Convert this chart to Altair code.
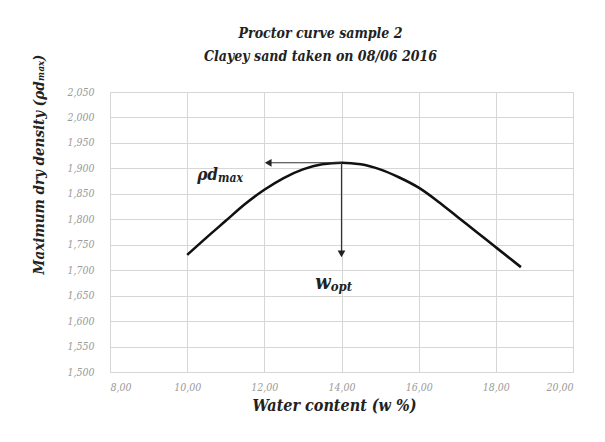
import altair as alt
import pandas as pd

# Proctor curve readings (water content %, dry density)
water = [10.0, 10.5, 11.0, 11.5, 12.0, 12.5, 13.0, 13.5, 14.0, 14.5, 15.0, 15.5, 16.0, 16.5, 17.0, 17.5, 18.0, 18.65]
density = [1.730, 1.764, 1.797, 1.830, 1.858, 1.881, 1.898, 1.908, 1.911, 1.908, 1.898, 1.882, 1.862, 1.835, 1.805, 1.775, 1.745, 1.706]

x_ticks = [8, 10, 12, 14, 16, 18, 20]
y_ticks = [1.500, 1.550, 1.600, 1.650, 1.700, 1.750, 1.800, 1.850, 1.900, 1.950, 2.000, 2.050]

# annotation values
w_opt = 14.0
rho_max = 1.911
h_arrow_end = 12.1
v_arrow_end = 1.732
rho_label_x = 10.8
rho_label_y = 1.878
w_label_x = 13.72
w_label_y = 1.663

title_lines = ["Proctor curve sample 2", "Clayey sand taken on 08/06 2016"]
x_title = "Water content (w %)"
y_title = "Maximum dry density (ρdₘₐₓ)"

SERIF = "DejaVu Serif Condensed"

curve_df = pd.DataFrame({"w": water, "rho": density})

x_scale = alt.Scale(domain=[8, 20], nice=False, zero=False)
y_scale = alt.Scale(domain=[1.5, 2.05], nice=False, zero=False)

x_axis = alt.Axis(
    values=x_ticks,
    labelExpr="replace(format(datum.value, '.2f'), '.', ',')",
    grid=True, gridColor="#d6d6d6", gridWidth=1,
    ticks=False, domain=False, labelOverlap=False,
    labelFont=SERIF, labelFontStyle="italic", labelFontSize=10.5, labelColor="#9a9a9a",
    labelPadding=10,
    title=x_title, titleFont=SERIF, titleFontStyle="italic", titleFontWeight="bold",
    titleFontSize=16, titleColor="#222222",
    titleX=224, titleY=33, titleAlign="center", titleBaseline="middle",
)
y_axis = alt.Axis(
    values=y_ticks,
    labelExpr="replace(format(datum.value, '.3f'), '.', ',')",
    grid=True, gridColor="#d6d6d6", gridWidth=1,
    ticks=False, domain=False, labelOverlap=False,
    labelFont=SERIF, labelFontStyle="italic", labelFontSize=10.5, labelColor="#9a9a9a",
    labelPadding=16,
    title=y_title, titleFont=SERIF, titleFontStyle="italic", titleFontWeight="bold",
    titleFontSize=15, titleColor="#222222",
    titleX=-72, titleY=72, titleAngle=270, titleAlign="center", titleBaseline="middle",
)

curve = alt.Chart(curve_df).mark_line(
    color="#111111", strokeWidth=2.6, interpolate="monotone"
).encode(
    x=alt.X("w:Q", scale=x_scale, axis=x_axis),
    y=alt.Y("rho:Q", scale=y_scale, axis=y_axis),
)

h_df = pd.DataFrame({"x1": [w_opt], "x2": [h_arrow_end], "y": [rho_max]})
v_df = pd.DataFrame({"x": [w_opt], "y1": [rho_max], "y2": [v_arrow_end]})

h_rule = alt.Chart(h_df).mark_rule(color="#333333", strokeWidth=1.2).encode(
    x=alt.X("x1:Q", scale=x_scale, axis=x_axis), x2="x2:Q",
    y=alt.Y("y:Q", scale=y_scale, axis=y_axis)
)
v_rule = alt.Chart(v_df).mark_rule(color="#333333", strokeWidth=1.2).encode(
    x=alt.X("x:Q", scale=x_scale, axis=x_axis),
    y=alt.Y("y1:Q", scale=y_scale, axis=y_axis), y2="y2:Q"
)
h_head = alt.Chart(h_df).mark_point(
    shape="triangle-left", filled=True, color="#222222", size=60, opacity=1
).encode(x=alt.X("x2:Q", scale=x_scale, axis=x_axis),
         y=alt.Y("y:Q", scale=y_scale, axis=y_axis))
v_head = alt.Chart(v_df).mark_point(
    shape="triangle-down", filled=True, color="#222222", size=60, opacity=1
).encode(x=alt.X("x:Q", scale=x_scale, axis=x_axis),
         y=alt.Y("y2:Q", scale=y_scale, axis=y_axis))

lab_df = pd.DataFrame({"x": [rho_label_x], "y": [rho_label_y]})
wl_df = pd.DataFrame({"x": [w_label_x], "y": [w_label_y]})

rho_main = alt.Chart(lab_df).mark_text(
    text="ρd", font=SERIF, fontStyle="italic", fontWeight="bold", fontSize=17,
    align="right", baseline="alphabetic", color="#222222"
).encode(x=alt.X("x:Q", scale=x_scale, axis=x_axis),
         y=alt.Y("y:Q", scale=y_scale, axis=y_axis))
rho_sub = alt.Chart(lab_df).mark_text(
    text="max", font=SERIF, fontStyle="italic", fontWeight="bold", fontSize=12,
    align="left", baseline="alphabetic", dy=2, color="#222222"
).encode(x=alt.X("x:Q", scale=x_scale, axis=x_axis),
         y=alt.Y("y:Q", scale=y_scale, axis=y_axis))

w_main = alt.Chart(wl_df).mark_text(
    text="w", font=SERIF, fontStyle="italic", fontWeight="bold", fontSize=20,
    align="right", baseline="alphabetic", color="#222222"
).encode(x=alt.X("x:Q", scale=x_scale, axis=x_axis),
         y=alt.Y("y:Q", scale=y_scale, axis=y_axis))
w_sub = alt.Chart(wl_df).mark_text(
    text="opt", font=SERIF, fontStyle="italic", fontWeight="bold", fontSize=13,
    align="left", baseline="alphabetic", dy=2, color="#222222"
).encode(x=alt.X("x:Q", scale=x_scale, axis=x_axis),
         y=alt.Y("y:Q", scale=y_scale, axis=y_axis))

chart = alt.layer(
    curve, h_rule, v_rule, h_head, v_head, rho_main, rho_sub, w_main, w_sub
).properties(
    width=463,
    height=280,
    autosize=alt.AutoSizeParams(type="none"),
    padding={"left": 102, "top": 84, "right": 20, "bottom": 50},
    title=alt.TitleParams(
        title_lines, font=SERIF, fontStyle="italic", fontWeight="bold",
        fontSize=14, lineHeight=23, anchor="middle", dx=-21, dy=18, offset=8,
        color="#222222",
    ),
).configure_view(
    fill="#f1f1f1", stroke="#d6d6d6"
).configure(background="white")

chart.save("out.html", embed_options={"renderer": "svg", "actions": False})
